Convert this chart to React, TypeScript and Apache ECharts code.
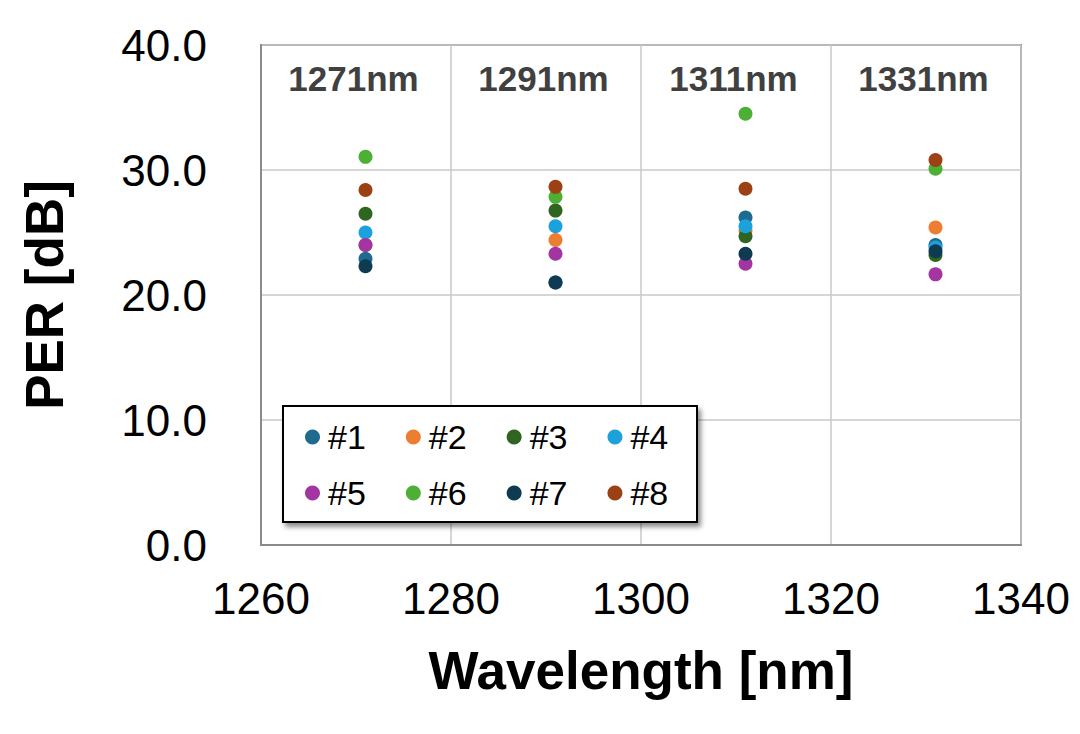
import React, { useEffect, useRef } from "react";
import * as echarts from "echarts";

// Measured PER per device at each wavelength channel
const wavelengths = [1271, 1291, 1311, 1331];
const channelLabels = ["1271nm", "1291nm", "1311nm", "1331nm"];
const deviceNames = ["#1", "#2", "#3", "#4", "#5", "#6", "#7", "#8"];
const deviceColors = [
  "#1F6A8F",
  "#ED7D31",
  "#2E6520",
  "#1BA1DB",
  "#A335A3",
  "#4DAF34",
  "#0E3A52",
  "#9C4114",
];
const per1 = [22.9, 21.0, 26.2, 24.0];
const per2 = [24.0, 24.4, 25.15, 25.4];
const per3 = [26.5, 26.75, 24.7, 23.2];
const per4 = [25.0, 25.5, 25.5, 23.8];
const per5 = [24.0, 23.3, 22.5, 21.65];
const per6 = [31.05, 27.85, 34.5, 30.1];
const per7 = [22.3, 21.0, 23.3, 23.5];
const per8 = [28.4, 28.65, 28.5, 30.8];
const perByDevice = [per1, per2, per3, per4, per5, per6, per7, per8];
const labelLevel = 37.3;

const yTicks = [0, 10, 20, 30, 40];
const xTicks = [1260, 1280, 1300, 1320, 1340];

const FONT = "'Liberation Sans', Arial, sans-serif";

export default function App() {
  const ref = useRef<HTMLDivElement>(null);

  useEffect(() => {
    if (!ref.current) return;
    const chart = echarts.init(ref.current, null, { renderer: "svg" });

    const scatterSeries = deviceNames.map((name, i) => ({
      name,
      type: "scatter",
      symbol: "circle",
      symbolSize: 14,
      itemStyle: { color: deviceColors[i], opacity: 1 },
      data: wavelengths.map((w, k) => [w, perByDevice[i][k]]),
      z: 2,
    }));

    const legendCommon = {
      orient: "horizontal",
      icon: "circle",
      itemWidth: 15,
      itemHeight: 15,
      itemGap: 40,
      padding: 0,
      selectedMode: false,
      z: 6,
      textStyle: { fontFamily: FONT, fontSize: 34, color: "#000", padding: [0, 0, 0, 3] },
    };

    chart.setOption({
      animation: false,
      backgroundColor: "#ffffff",
      textStyle: { fontFamily: FONT },
      grid: {
        left: 261,
        right: 59,
        top: 45,
        bottom: 189,
        show: true,
        borderColor: "#8a8a8a",
        borderWidth: 2,
        backgroundColor: "transparent",
      },
      xAxis: {
        type: "value",
        min: xTicks[0],
        max: xTicks[xTicks.length - 1],
        interval: 20,
        name: "Wavelength [nm]",
        nameLocation: "middle",
        nameGap: 99,
        nameTextStyle: { fontFamily: FONT, fontSize: 53, fontWeight: "bold", color: "#000" },
        axisLine: { show: true, lineStyle: { color: "#8a8a8a", width: 2 } },
        axisTick: { show: false },
        axisLabel: {
          fontFamily: FONT,
          fontSize: 44,
          color: "#000",
          margin: 31,
          formatter: (v: number) => String(v),
        },
        splitLine: { show: true, lineStyle: { color: "#c8c8c8", width: 1.5 } },
      },
      yAxis: {
        type: "value",
        min: yTicks[0],
        max: yTicks[yTicks.length - 1],
        interval: 10,
        name: "PER [dB]",
        nameLocation: "middle",
        nameGap: 190,
        nameTextStyle: { fontFamily: FONT, fontSize: 53, fontWeight: "bold", color: "#000" },
        axisLine: { show: true, lineStyle: { color: "#8a8a8a", width: 2 } },
        axisTick: { show: false },
        axisLabel: {
          fontFamily: FONT,
          fontSize: 44,
          color: "#000",
          margin: 54,
          formatter: (v: number) => v.toFixed(1),
        },
        splitLine: { show: true, lineStyle: { color: "#c8c8c8", width: 1.5 } },
      },
      legend: [
        { ...legendCommon, data: deviceNames.slice(0, 4), left: 305, top: 420 },
        { ...legendCommon, data: deviceNames.slice(4, 8), left: 305, top: 476 },
      ],
      graphic: [
        {
          type: "rect",
          z: 5,
          shape: { x: 283, y: 406, width: 414, height: 116 },
          style: {
            fill: "#ffffff",
            stroke: "#000000",
            lineWidth: 2,
            shadowBlur: 5,
            shadowOffsetX: 3,
            shadowOffsetY: 4,
            shadowColor: "rgba(0,0,0,0.45)",
          },
        },
      ],
      series: [
        ...scatterSeries,
        {
          name: "channels",
          type: "scatter",
          symbolSize: 0,
          silent: true,
          itemStyle: { opacity: 1 },
          data: wavelengths.map((w) => [w, labelLevel]),
          label: {
            show: true,
            position: "inside",
            offset: [-12, 0],
            formatter: (p: any) => channelLabels[p.dataIndex],
            fontFamily: FONT,
            fontSize: 35,
            fontWeight: "bold",
            color: "#404040",
            opacity: 1,
          },
          z: 3,
        },
      ],
    });

    return () => chart.dispose();
  }, []);

  return (
    <div
      ref={ref}
      style={{ position: "absolute", left: 0, top: 0, width: 1080, height: 734, background: "#fff" }}
    />
  );
}
